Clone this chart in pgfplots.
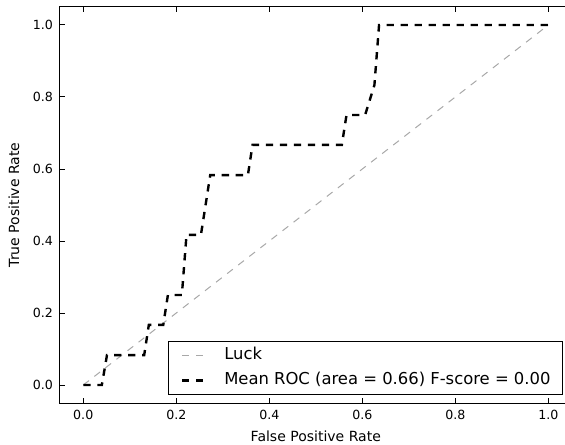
\documentclass[border=0pt]{standalone}
\usepackage{fontspec}
\setmainfont{DejaVu Sans}
\usepackage{pgfplots}
\pgfplotsset{compat=1.18}

\definecolor{luckgray}{rgb}{0.66,0.66,0.66}

\begin{document}
\begin{tikzpicture}
\begin{axis}[
    scale only axis,
    width=255.8pt, height=198pt,
    xmin=-0.05, xmax=1.05,
    ymin=-0.05, ymax=1.05,
    xtick={0,0.2,0.4,0.6,0.8,1.0},
    ytick={0,0.2,0.4,0.6,0.8,1.0},
    tick align=inside, tick pos=both,
    major tick length=2.5pt,
    every tick/.style={black, line width=0.5pt},
    axis line style={black, line width=0.5pt},
    /pgf/number format/assume math mode=true,
    xticklabel style={/pgf/number format/fixed, /pgf/number format/fixed zerofill, /pgf/number format/precision=1},
    yticklabel style={/pgf/number format/fixed, /pgf/number format/fixed zerofill, /pgf/number format/precision=1},
    tick label style={font=\fontsize{6.3}{7.5}\selectfont},
    label style={font=\fontsize{7}{8.4}\selectfont},
    xlabel={False Positive Rate},
    ylabel={True Positive Rate},
    xlabel style={at={(axis description cs:0.5,-0.083)}, anchor=center},
    ylabel style={at={(axis description cs:-0.09,0.5)}, anchor=center},
    legend cell align=left,
    legend image code/.code={\draw[#1] (0pt,0pt) -- (11pt,0pt);},
    legend style={
        at={(1,0)}, anchor=south east, xshift=-4.3pt, yshift=4pt,
        draw=black, line width=0.5pt,
        inner xsep=6pt, inner ysep=3.1pt,
        font=\fontsize{8.2}{9.8}\selectfont,
        nodes={inner sep=0pt, text height=6pt, text depth=1.8pt},
        row sep=4.7pt,
        /tikz/every odd column/.append style={column sep=9.5pt},
    },
]
\addplot[luckgray, line width=0.5pt, dash pattern=on 3.6pt off 3.4pt] coordinates {
    (0,0) (1,1)
};
\addlegendentry{Luck}
\addplot[black, line width=1.2pt, dash pattern=on 3.65pt off 3.35pt] coordinates {
    (0,0) (0.040,0) (0.051,0.083) (0.131,0.083) (0.141,0.167)
    (0.172,0.167) (0.182,0.25) (0.212,0.25) (0.222,0.417)
    (0.253,0.417) (0.273,0.583) (0.354,0.583) (0.364,0.667)
    (0.556,0.667) (0.566,0.75) (0.606,0.75) (0.626,0.833)
    (0.636,1.0) (1.0,1.0)
};
\addlegendentry{Mean ROC (area = 0.66) F-score = 0.00}
\end{axis}
\pgfresetboundingbox
\path[use as bounding box] ([xshift=-30pt,yshift=-20.5pt]current axis.south west)
    rectangle ([xshift=-3.3pt,yshift=3.5pt]current axis.north east);
\end{tikzpicture}
\end{document}
